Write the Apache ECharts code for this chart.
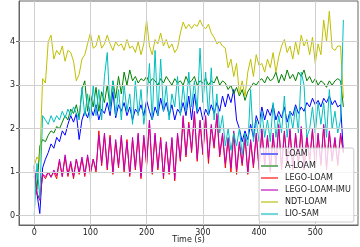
<!DOCTYPE html>
<html><head><meta charset="utf-8">
<script src="https://cdn.jsdelivr.net/npm/echarts@6/dist/echarts.min.js"></script>
<style>html,body{margin:0;padding:0;background:#fff}#c{width:360px;height:247px}</style>
</head><body><div id="c"></div>
<script>
// time axis: samples every 5 s from 0 to 550 s
const T_START = 0, T_STEP = 5;
const xTicks = [0, 100, 200, 300, 400, 500];
const yTicks = [0, 1, 2, 3, 4];
const seriesNames = ['LOAM', 'A-LOAM', 'LEGO-LOAM', 'LEGO-LOAM-IMU', 'NDT-LOAM', 'LIO-SAM'];

const loam = [
 1.15,0.5,0.05,1.1,1.3,1.45,1.65,1.55,1.8,1.7,
 1.95,1.85,2.1,2.3,2.15,2.35,1.75,2.2,2.4,2.25,
 2.5,2.3,2.55,2.2,2.45,2.35,2.6,2.3,2.85,2.25,
 2.55,2.4,2.6,2.3,2.5,2.2,2.45,2.35,2.55,2.3,
 2.65,2.4,2.2,2.5,2.3,2.7,2.4,2.6,2.3,2.55,
 2.2,2.45,2.35,2.6,2.3,2.75,2.2,2.8,2.35,2.5,
 2.2,2.45,2.3,2.55,2.35,2.6,2.4,2.75,2.5,2.8,
 2.6,2.9,2.2,2.0,1.7,1.95,1.75,2.1,1.8,2.3,
 2.1,2.5,2.2,2.45,2.3,2.55,2.2,2.4,2.25,2.5,
 2.15,2.4,2.3,2.55,2.35,2.5,2.4,2.6,2.5,2.7,
 2.55,2.65,2.5,2.7,2.6,2.75,2.55,2.65,2.5,2.55,
 1.45];
const aloam = [
 0.9,0.6,1.6,1.75,1.7,1.85,1.95,1.9,2.05,2.0,
 2.15,2.3,2.2,2.45,2.35,2.55,2.25,2.9,3.1,2.4,
 2.8,2.5,2.95,2.4,2.85,2.6,3.0,2.5,3.1,2.7,
 3.2,2.8,3.3,3.0,3.35,3.1,3.2,3.05,3.15,3.1,
 3.2,3.05,3.15,3.1,3.0,3.15,3.05,3.2,3.1,3.0,
 3.15,3.05,3.1,3.0,3.2,3.05,3.1,3.2,3.0,3.1,
 3.05,3.15,3.0,3.1,3.05,3.2,3.0,3.1,3.05,2.9,
 3.0,2.8,2.95,2.75,2.9,2.65,2.85,2.95,3.05,3.0,
 3.1,3.15,3.05,3.2,3.1,3.15,3.3,3.05,3.25,3.1,
 3.35,3.15,3.25,3.1,3.3,3.2,3.35,3.1,3.2,3.05,
 3.15,3.0,3.1,3.05,2.95,3.1,3.0,3.1,3.15,3.1,
 2.5];
const legoLoam = [
 1.05,0.5,0.4,0.95,0.85,1.0,0.9,1.0,0.85,1.25,
 0.9,1.35,0.9,1.2,0.85,1.3,0.95,1.3,0.9,1.35,
 0.95,1.3,1.0,1.95,1.15,1.85,1.05,1.85,0.95,1.7,
 1.1,1.8,1.0,1.75,0.9,1.75,1.05,1.85,0.85,1.8,
 1.15,2.15,0.95,1.85,1.05,1.8,0.85,1.65,0.95,1.75,
 0.8,1.85,1.25,2.25,1.35,2.15,1.45,2.35,1.25,2.15,
 1.4,2.25,1.2,2.05,1.55,2.3,1.35,1.85,1.1,1.75,
 1.0,1.9,0.95,1.65,1.15,1.8,0.95,1.7,1.1,1.85,
 1.05,1.95,1.15,1.8,1.0,1.85,1.15,2.05,1.05,1.9,
 1.2,1.95,1.05,1.85,1.15,2.0,1.05,1.8,1.25,1.95,
 1.1,1.85,1.15,2.05,1.05,1.9,1.25,1.75,1.15,1.85,
 1.45];
const legoLoamImu = [
 1.1,0.5,0.35,0.95,0.9,1.0,0.88,1.05,0.92,1.3,
 0.9,1.4,0.95,1.25,0.9,1.3,1.0,1.35,0.95,1.4,
 1.0,1.3,1.05,1.85,1.2,1.9,1.1,1.8,1.0,1.75,
 1.15,1.85,1.05,1.7,0.95,1.8,1.1,1.9,0.9,1.85,
 1.2,2.2,1.0,1.9,1.1,1.75,0.9,1.7,1.0,1.8,
 0.85,1.9,1.3,2.3,1.4,2.1,1.5,2.4,1.3,2.2,
 1.45,2.3,1.3,2.1,1.6,2.35,1.4,1.9,1.2,1.8,
 1.1,1.95,1.05,1.7,1.2,1.85,1.0,1.75,1.15,1.9,
 1.1,2.0,1.2,1.85,1.05,1.9,1.2,2.1,1.1,1.95,
 1.25,2.0,1.1,1.9,1.2,2.05,1.1,1.85,1.3,2.0,
 1.15,1.9,1.2,2.1,1.1,1.95,1.3,1.8,1.2,1.9,
 1.5];
const ndtLoam = [
 1.15,1.35,1.25,3.15,3.05,4.0,4.15,3.6,3.8,3.7,
 3.9,3.55,3.8,3.75,3.55,3.1,3.25,3.6,3.7,3.95,
 4.2,3.85,3.9,4.15,3.85,3.95,4.15,3.95,3.8,4.0,
 3.9,3.95,3.8,4.05,3.85,3.9,3.75,4.0,3.7,3.95,
 4.5,3.9,3.7,4.05,3.95,4.2,3.9,4.05,3.85,3.95,
 3.75,3.85,4.2,4.45,4.3,4.4,4.3,4.4,4.35,4.5,
 4.35,4.3,4.4,4.2,4.1,3.95,4.0,3.9,3.85,3.4,
 3.6,3.2,3.5,2.8,3.1,2.75,3.3,3.6,3.2,3.7,
 3.45,3.5,3.3,3.6,3.4,3.75,3.3,3.65,3.9,4.05,
 3.75,3.9,3.6,4.0,3.7,4.15,3.9,4.05,3.7,4.1,
 3.5,3.95,3.7,4.5,4.0,4.7,3.85,3.8,3.9,3.9,
 2.7];
const lioSam = [
 0.0,1.2,0.4,2.3,2.2,2.1,2.3,2.15,2.3,2.2,
 2.4,2.25,2.45,2.3,2.5,2.35,2.2,2.95,2.3,2.8,
 2.15,3.0,2.3,2.9,2.2,3.2,3.75,2.4,3.1,2.3,
 2.9,2.2,3.0,2.4,2.8,2.1,3.1,2.3,2.9,2.1,
 2.6,3.5,2.2,3.8,2.3,3.6,2.4,3.0,2.2,2.8,
 2.5,3.2,2.3,3.0,2.4,3.3,2.5,3.1,2.4,3.85,
 2.6,3.3,2.3,3.4,2.2,2.8,1.9,2.3,1.6,2.0,
 1.5,1.9,1.6,2.0,1.4,1.9,1.6,2.9,1.7,2.2,
 1.7,2.4,1.8,2.2,1.7,2.6,1.8,2.3,1.9,2.75,
 1.8,2.4,2.0,2.5,1.9,3.3,3.0,1.8,2.0,2.5,
 1.9,2.6,2.1,2.6,1.8,2.9,2.0,2.4,1.9,2.2,
 4.5];

const colors = ['#0000ff', '#008000', '#ff0000', '#bf00bf', '#bfbf00', '#00bfbf'];
const legendColors = ['#7070ff', '#70b070', '#ff7070', '#d870d8', '#d8d870', '#70d8d8'];
const allData = [loam, aloam, legoLoam, legoLoamImu, ndtLoam, lioSam];

const FONT = 'DejaVu Sans';
const chart = echarts.init(document.getElementById('c'), null, {renderer: 'canvas'});
const series = seriesNames.map((name, k) => ({
  name, type: 'line', showSymbol: false, symbol: 'none', animation: false,
  data: allData[k].map((v, i) => [T_START + i * T_STEP, v]),
  lineStyle: {color: colors[k], width: 1}, itemStyle: {color: colors[k]},
  z: 2
}));
chart.setOption({
  animation: false,
  grid: {left: 19, right: 2, top: 1, bottom: 22, show: true, borderColor: '#666', borderWidth: 1,
         containLabel: false, outerBoundsMode: 'none'},
  legend: {
    orient: 'vertical', left: 259, top: 148, padding: [1, 3, 3, 2], z: 50,
    backgroundColor: 'rgba(255,255,255,0.8)', borderColor: '#ccc', borderWidth: 1, borderRadius: 2,
    itemWidth: 17, itemHeight: 2, itemGap: 2, icon: 'rect',
    textStyle: {fontFamily: FONT, fontSize: 8, color: '#222', lineHeight: 10, padding: [0, 0, 0, 2]},
    data: seriesNames.map((n, k) => ({name: n, itemStyle: {color: legendColors[k]}}))
  },
  xAxis: {
    type: 'value', min: -27, max: 576,
    name: 'Time (s)', nameLocation: 'middle', nameGap: 15, nameMoveOverlap: false,
    nameTextStyle: {fontFamily: FONT, fontSize: 8, color: '#222', verticalAlign: 'middle', lineHeight: 9},
    axisLine: {show: true, onZero: false, lineStyle: {color: '#666'}},
    axisTick: {show: true, length: 3, lineStyle: {color: '#666'}, customValues: xTicks},
    axisLabel: {fontFamily: FONT, fontSize: 8, color: '#222', margin: 4, customValues: xTicks},
    splitLine: {show: false}
  },
  yAxis: {
    type: 'value', min: -0.214, max: 4.935,
    name: 'CPU Usage (cores)', nameLocation: 'middle', nameGap: 10,
    nameTextStyle: {fontFamily: FONT, fontSize: 8, color: '#222'},
    axisLine: {show: true, onZero: false, lineStyle: {color: '#666'}},
    axisTick: {show: true, length: 3, lineStyle: {color: '#666'}, customValues: yTicks},
    axisLabel: {fontFamily: FONT, fontSize: 8, color: '#222', margin: 4, customValues: yTicks},
    splitLine: {show: false}
  },
  series: series.concat([{
    type: 'line', data: [], silent: true, z: 1,
    markLine: {
      silent: true, symbol: 'none', label: {show: false}, animation: false,
      lineStyle: {color: '#d0d0d0', width: 1, type: 'solid'},
      data: xTicks.map(v => ({xAxis: v})).concat(yTicks.map(v => ({yAxis: v})))
    }
  }])
});
</script></body></html>
